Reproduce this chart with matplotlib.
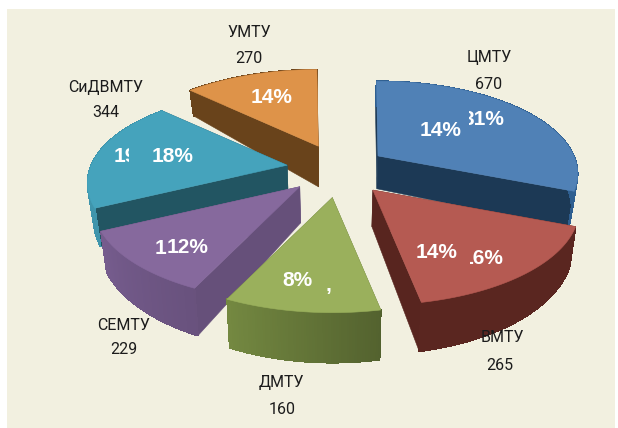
import numpy as np
import matplotlib
matplotlib.use('Agg')
import matplotlib.pyplot as plt
from matplotlib.patches import Polygon, Rectangle

names = ['ЦМТУ', 'ВМТУ', 'ДМТУ', 'СЕМТУ', 'СиДВМТУ', 'УМТУ']
counts = ['670', '265', '160', '229', '344', '270']
# slice sizes as drawn (the printed counts do not add up to them)
shares = [31.1, 15.9, 10.1, 10.7, 19.4, 12.7]
pct_visible = ['14%', '14%', '8%', '12%', '18%', '14%']

tops = ['#5081b6', '#b55a52', '#9ab05c', '#86699d', '#45a3bc', '#de9349']
walls = ['#1c3955', '#58251f', '#5c6e34', '#66507a', '#225562', '#69431b']
rims = ['#2f5f90', '#5a2620', '#6b7e3c', '#6e5684', '#3f95ac', '#69431b']
draw_order = [5, 0, 4, 3, 1, 2]

name_xy = [(489, 57), (502, 337), (281, 382), (124, 325), (106, 87), (249, 32)]
count_xy = [(489, 84), (500, 366), (282, 410), (124, 350), (106, 112), (249, 58)]
pct_xy = [(441, 131), (437, 252), (297, 280), (188, 247), (173, 157), (272, 97)]

# camera model
cx, cy = 333, 170
f, g, k = 202, 92, 0.2
explode = 0.27
start_deg = -0.5
nudge = [(0, 0), (5, 1), (6, 3), (5, -1), (8, -1), (7, -1)]
radius = [0.97, 1.0, 1.0, 1.0, 0.97, 1.0]
apex_extra = [0, 0, 0, 0, 0, 9]


def project(ax_, ay_, x, y):
    s = 1 / (1 + k * y)
    return ax_ + f * x * s, ay_ - g * y * s


def drop(p, extra=0):
    # bottom of the extrusion for a point on the top face
    d = 26 + (p[1] - 94) * 0.11 + extra
    return (p[0] + (cx - p[0]) * 0.025, p[1] + d)


fig = plt.figure(figsize=(6.18, 4.28), dpi=100, facecolor='white')
ax = fig.add_axes([0, 0, 1, 1])
ax.set_xlim(0, 618)
ax.set_ylim(428, 0)
ax.axis('off')
ax.add_patch(Rectangle((7, 9), 608, 419, facecolor='#f2f0e0', edgecolor='none'))

edges = np.cumsum([0] + shares) / sum(shares) * 2 * np.pi + np.radians(start_deg)

for i in draw_order:
    a0, a1 = edges[i], edges[i + 1]
    mid = (a0 + a1) / 2
    px = cx + f * explode * np.sin(mid) + nudge[i][0]
    py = cy - g * explode * np.cos(mid) + nudge[i][1]
    ts = np.linspace(a0, a1, 60)
    rim = [project(px, py, radius[i] * np.sin(t), radius[i] * np.cos(t)) for t in ts]
    apex = (px, py)

    # radial walls
    for e in (rim[0], rim[-1]):
        quad = [apex, e, drop(e), drop(apex, apex_extra[i])]
        ax.add_patch(Polygon(quad, facecolor=walls[i], edgecolor=walls[i], lw=0.4))
    # outer wall in strips, shaded a little across the slice
    base = np.array(matplotlib.colors.to_rgb(rims[i]))
    outline = rim + [drop(p) for p in rim[::-1]]
    ax.add_patch(Polygon(outline, facecolor=rims[i], edgecolor=rims[i], lw=0.4))
    for j in range(len(rim) - 1):
        shade = 1.0
        if i == 2:
            shade = 0.78 + 0.3 * j / (len(rim) - 2)
        if i == 3:
            shade = 0.95 + 0.12 * j / (len(rim) - 2)
        col = np.clip(base * shade, 0, 1)
        quad = [rim[j], rim[j + 1], drop(rim[j + 1]), drop(rim[j])]
        ax.add_patch(Polygon(quad, facecolor=col, edgecolor=col, lw=0.5, antialiased=False))
    ax.add_patch(Polygon([apex] + rim, facecolor=tops[i], edgecolor=tops[i], lw=0.4))

label_font = 'Roboto'
pct_font = 'Liberation Sans'
for i in range(len(names)):
    ax.text(*name_xy[i], names[i], family=label_font, fontsize=11.5, color='#1c1c1c', ha='center', va='center')
    ax.text(*count_xy[i], counts[i], family=label_font, fontsize=11.5, color='#1c1c1c', ha='center', va='center')
    ax.text(*pct_xy[i], pct_visible[i], family=pct_font, fontsize=15, fontweight='bold', color='white', ha='center', va='center')


def pct_scrap(x, y, s, clip):
    t = ax.text(x, y, s, family=pct_font, fontsize=15, fontweight='bold', color='white',
                ha='center', va='center', clip_on=True)
    t.set_clip_path(Rectangle((clip[0], clip[1]), clip[2], clip[3], transform=ax.transData))


# leftovers of the older labels that show through in the print
pct_scrap(483, 119, '31%', (469, 100, 60, 40))
pct_scrap(483, 258, '16%', (470, 240, 60, 40))
pct_scrap(135, 157, '19%', (110, 140, 19, 34))
pct_scrap(160, 248, '1', (150, 230, 20, 40))
pct_scrap(328, 285, ',', (320, 270, 16, 30))

fig.savefig('out.png', dpi=100, facecolor='white')
